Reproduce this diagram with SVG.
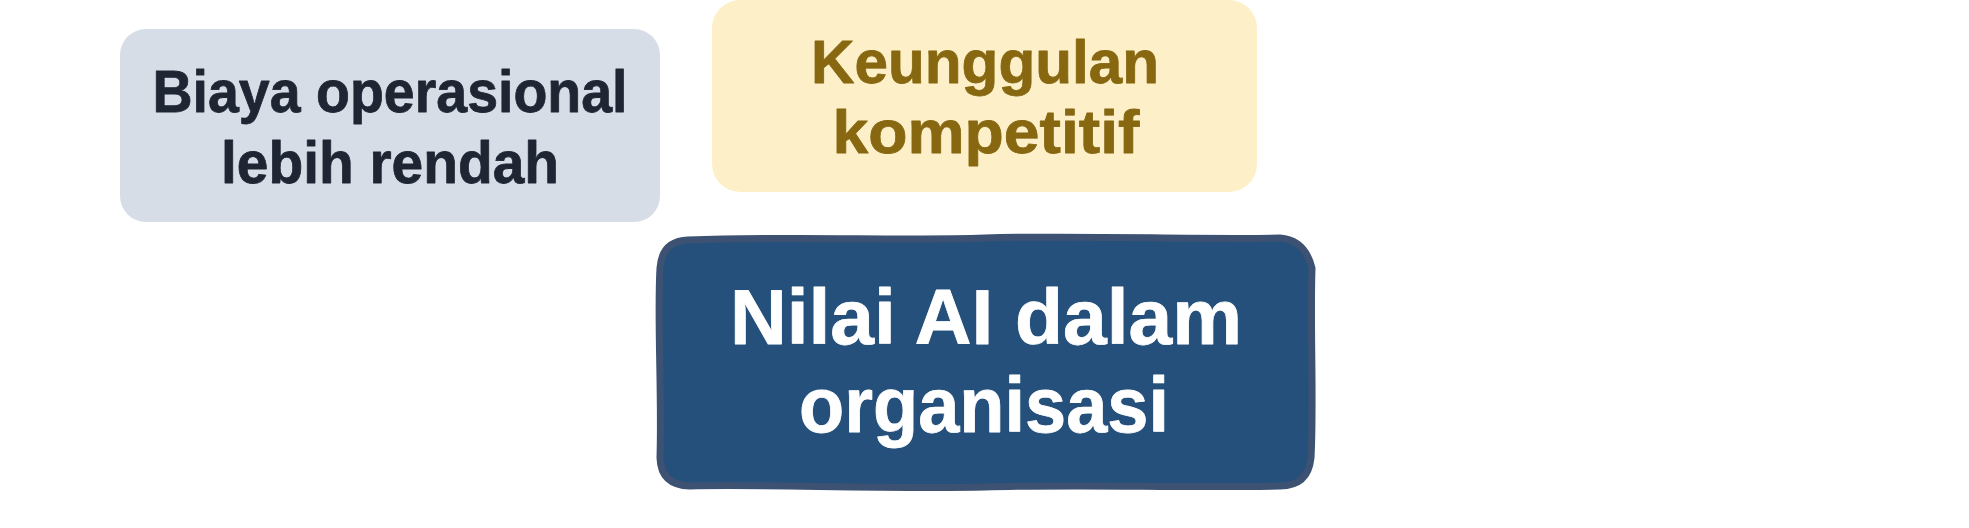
<svg xmlns="http://www.w3.org/2000/svg" width="1969" height="528" viewBox="0 0 1969 528">
<style>
.t{font-family:"Liberation Sans",Arial,sans-serif;font-weight:700;text-anchor:middle;stroke-width:0.8;stroke-linejoin:round}
.d{fill:#1e2633;stroke:#1e2633}
.y{fill:#876710;stroke:#876710}
.w{fill:#ffffff;stroke:#ffffff}
</style>
<rect width="1969" height="528" fill="#ffffff"/>
<g id="node-cost">
<rect x="120" y="29" width="540" height="193" rx="26" fill="#d7dde7"/>
<text class="t d" font-size="60"><tspan x="390" y="112" textLength="475" lengthAdjust="spacingAndGlyphs">Biaya operasional</tspan><tspan x="390" y="183" textLength="338" lengthAdjust="spacingAndGlyphs">lebih rendah</tspan></text>
</g>
<g id="node-advantage">
<rect x="712" y="0" width="545" height="192" rx="28" fill="#fdf0c9"/>
<text class="t y" font-size="62"><tspan x="985" y="83" textLength="348" lengthAdjust="spacingAndGlyphs">Keunggulan</tspan><tspan x="986" y="153" textLength="307" lengthAdjust="spacingAndGlyphs">kompetitif</tspan></text>
</g>
<g id="node-value">
<path d="M 688 240 C 800 236, 900 241, 985 238 C 1080 235, 1200 240, 1280 238 Q 1305 240 1312 268 C 1310 330, 1314 400, 1311 458 Q 1308 486 1280 486 C 1180 488, 1080 484, 985 487 C 880 489, 760 484, 690 486 Q 661 485 660 458 C 662 390, 657 320, 660 268 Q 662 241 688 240 Z" fill="#24507b" stroke="#3d5272" stroke-width="7" stroke-linejoin="round"/>
<text class="t w" font-size="78"><tspan x="986" y="344" textLength="512" lengthAdjust="spacingAndGlyphs">Nilai AI dalam</tspan><tspan x="984" y="432" textLength="370" lengthAdjust="spacingAndGlyphs">organisasi</tspan></text>
</g>
<g id="connectors"></g>
</svg>
